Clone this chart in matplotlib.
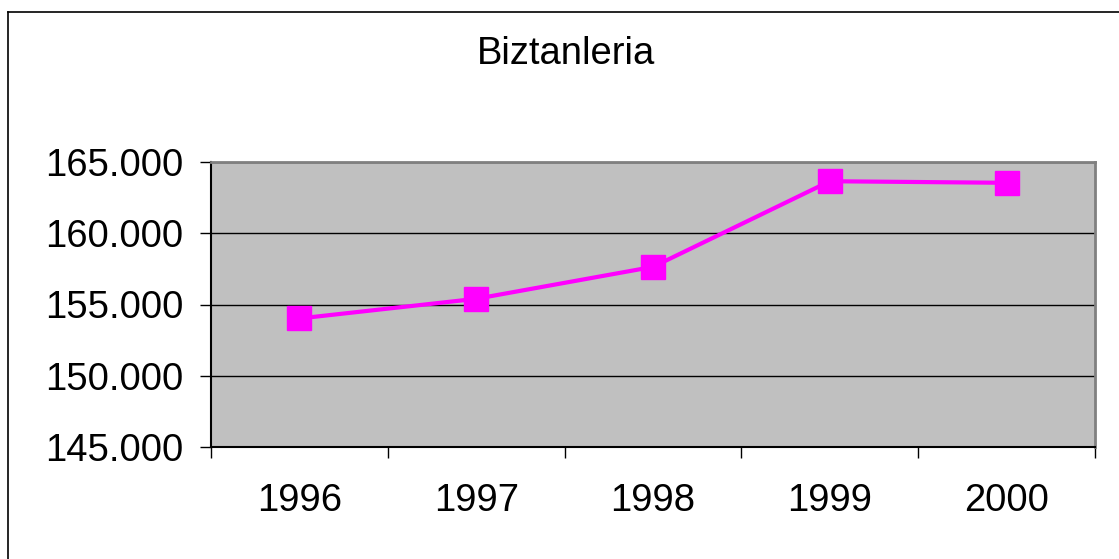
import matplotlib
matplotlib.use("Agg")
import matplotlib.pyplot as plt
from matplotlib.lines import Line2D

years = ["1996", "1997", "1998", "1999", "2000"]
population = [154020, 155400, 157640, 163650, 163540]
yticks = [145000, 150000, 155000, 160000, 165000]
ytick_labels = ["145.000", "150.000", "155.000", "160.000", "165.000"]

plt.rcParams["font.family"] = ["Liberation Sans", "DejaVu Sans"]

W, H = 1119, 559
fig = plt.figure(figsize=(W / 100, H / 100), dpi=100)

# outer chart border (only left and top edges visible)
fig.add_artist(Line2D([8 / W, 8 / W], [0, (H - 12) / H], color="black", lw=1.2, transform=fig.transFigure))
fig.add_artist(Line2D([8 / W, 1], [(H - 12) / H, (H - 12) / H], color="black", lw=1.2, transform=fig.transFigure))

ax = fig.add_axes([211 / W, (H - 447) / H, (1095 - 211) / W, (447 - 162) / H])
ax.set_facecolor("#C0C0C0")

x = list(range(len(years)))
ax.plot(x, population, color="#FF00FF", lw=3, marker="s", markersize=17.5,
        markerfacecolor="#FF00FF", markeredgecolor="#FF00FF", zorder=3)

ax.set_xlim(-0.5, len(years) - 0.5)
ax.set_ylim(145000, 165000)
ax.set_yticks(yticks)
ax.set_yticklabels(ytick_labels, fontsize=27.5)
ax.yaxis.grid(True, color="black", lw=1)
ax.set_axisbelow(True)

ax.set_xticks(x)
ax.set_xticklabels(years, fontsize=27.5)
ax.set_xticks([i - 0.5 for i in range(len(years) + 1)], minor=True)
ax.tick_params(axis="x", which="major", length=0, pad=26)
ax.tick_params(axis="x", which="minor", length=8, width=1, direction="out")
ax.tick_params(axis="y", length=8, width=1, direction="out", pad=12)

for side in ["top", "right"]:
    ax.spines[side].set_color("#808080")
    ax.spines[side].set_linewidth(2)
for side in ["left", "bottom"]:
    ax.spines[side].set_color("black")
    ax.spines[side].set_linewidth(1.5)

fig.text(566 / W, (H - 54) / H, "Biztanleria", fontsize=27.5, ha="center", va="center")

fig.savefig("out.png", dpi=100)
